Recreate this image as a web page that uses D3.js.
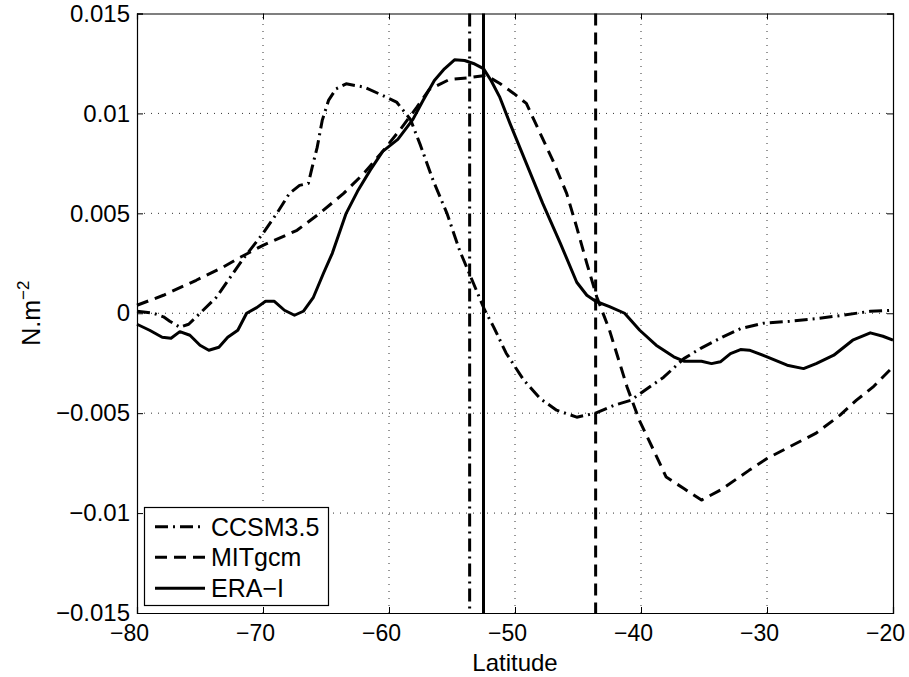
<!DOCTYPE html>
<html>
<head>
<meta charset="utf-8">
<script src="https://cdn.jsdelivr.net/npm/d3@7.9.0/dist/d3.min.js"></script>
<style>
  body { margin: 0; background: #fff; }
  svg { display: block; font-family: "Liberation Sans", Arial, Helvetica, sans-serif; }
</style>
</head>
<body>
<svg width="909" height="677"></svg>
<script>
// latitude / stress values
const ccsmLat = [-80, -79.3, -78.7, -77.9, -77.4, -76.6, -75.9, -75.0, -73.7, -72.6, -71.6, -70.0, -68.9, -67.9, -67.1, -66.4, -66.1, -65.7, -65.3, -64.8, -64.2, -63.4, -62.0, -60.5, -59.4, -58.3, -57.5, -56.5, -55.4, -54.4, -53.3, -52.4, -51.7, -50.7, -49.3, -48.0, -46.7, -45.1, -43.6, -42.1, -40.8, -39.8, -38.2, -36.6, -35.3, -33.5, -32.1, -30.3, -28.2, -26.1, -24.0, -21.8, -20.0];
const ccsmVal = [0.0001, 0.00005, 0, -0.00018, -0.0004, -0.0007, -0.00055, 0, 0.0008, 0.0018, 0.0027, 0.004, 0.005, 0.006, 0.0064, 0.0065, 0.0073, 0.0083, 0.00965, 0.01065, 0.01123, 0.01148, 0.01132, 0.0109, 0.01057, 0.0097, 0.0084, 0.00665, 0.005, 0.00315, 0.0015, 0.00015, -0.00068, -0.002, -0.00335, -0.00427, -0.00485, -0.0052, -0.005, -0.0046, -0.00435, -0.0039, -0.0032, -0.00227, -0.00177, -0.00118, -0.00077, -0.0005, -0.0004, -0.00027, -0.0001, 0.0001, 0.00015];

const mitLat = [-80, -77.9, -75.3, -73.2, -71.8, -70.0, -67.3, -65.5, -63.6, -62.0, -60.5, -59.1, -57.8, -56.8, -55.2, -53.8, -52.3, -51.2, -50.1, -49.1, -48.0, -47.0, -45.9, -45.1, -44.3, -43.5, -42.5, -41.1, -40.1, -39.0, -38.0, -36.6, -35.2, -33.7, -31.4, -30.0, -28.2, -26.1, -24.2, -22.9, -21.6, -20.0];
const mitVal = [0.0004, 0.0009, 0.00165, 0.0023, 0.0028, 0.0034, 0.00415, 0.005, 0.006, 0.007, 0.0081, 0.0092, 0.0103, 0.0112, 0.0117, 0.01178, 0.0119, 0.0115, 0.011, 0.0105, 0.009, 0.00765, 0.006, 0.0043, 0.0025, 0.0008, -0.00085, -0.0037, -0.0054, -0.00685, -0.0082, -0.00877, -0.00935, -0.00885, -0.00785, -0.00727, -0.00668, -0.006, -0.0051, -0.00435, -0.0037, -0.00268];

const eraLat = [-80, -79, -78, -77.3, -76.6, -75.8, -75.0, -74.3, -73.5, -72.8, -72.0, -71.3, -70.5, -69.8, -69.1, -68.3, -67.5, -66.8, -66.0, -65.2, -64.5, -63.4, -62.5, -61.5, -60.5, -59.3, -58.1, -57.3, -56.4, -55.6, -54.8, -54.0, -53.3, -52.5, -51.9, -51.2, -50.4, -49.1, -47.8, -46.4, -45.1, -44.3, -43.6, -42.5, -41.3, -40.1, -38.8, -37.4, -36.6, -35.2, -34.4, -33.7, -32.9, -32.1, -31.4, -30.0, -28.4, -27.1, -26.1, -24.7, -23.2, -21.8, -20.8, -20.0];
const eraVal = [-0.00055, -0.00085, -0.0012, -0.00125, -0.00092, -0.0011, -0.0016, -0.00185, -0.0017, -0.0012, -0.00085, 0, 0.00028, 0.0006, 0.0006, 0.00015, -0.0001, 0.0001, 0.0008, 0.002, 0.003, 0.005, 0.0061, 0.00715, 0.0081, 0.0087, 0.0097, 0.01065, 0.01165, 0.01223, 0.01268, 0.01265, 0.0125, 0.01224, 0.01165, 0.0108, 0.0095, 0.0075, 0.0055, 0.0035, 0.00155, 0.0009, 0.0006, 0.00033, 0, -0.00085, -0.0016, -0.00218, -0.0024, -0.0024, -0.00252, -0.00243, -0.00202, -0.00182, -0.00185, -0.00218, -0.0026, -0.00277, -0.00252, -0.0021, -0.00135, -0.00098, -0.00115, -0.00135];

// latitude of the jet position for each dataset (vertical lines)
const jetLat = [-53.6, -43.6, -52.5];
const seriesNames = ['CCSM3.5', 'MITgcm', 'ERA\u2212I'];
const xTicks = [-80, -70, -60, -50, -40, -30, -20];
const yTicks = [-0.015, -0.01, -0.005, 0, 0.005, 0.01, 0.015];

const dashes = ['13,5,2,5', '12,7', null];

const svg = d3.select('svg');
const margin = { left: 137, right: 16, top: 13.5, bottom: 64 };
const W = 909, H = 677;

let x = d3.scaleLinear().domain([-80, -20]).range([margin.left, W - margin.right]);
let y = d3.scaleLinear().domain([-0.015, 0.015]).range([H - margin.bottom, margin.top]);

let fmt = (v) => (v < 0 ? '\u2212' : '') + String(Math.abs(v));

// grid
let grid = svg.append('g');
grid.selectAll('.gx').data(xTicks.slice(1, -1)).join('line')
  .attr('x1', d => x(d)).attr('x2', d => x(d))
  .attr('y1', y(-0.015)).attr('y2', y(0.015))
  .attr('stroke', '#333').attr('stroke-width', 1).attr('stroke-dasharray', '1,6');
grid.selectAll('.gy').data(yTicks.slice(1, -1)).join('line')
  .attr('y1', d => y(d)).attr('y2', d => y(d))
  .attr('x1', x(-80)).attr('x2', x(-20))
  .attr('stroke', '#333').attr('stroke-width', 1).attr('stroke-dasharray', '1,6');

// axes with inward ticks
let xAxis = d3.axisBottom(x).tickValues(xTicks).tickSize(-6).tickPadding(12).tickFormat(fmt);
let xTop = d3.axisTop(x).tickValues(xTicks).tickSize(-6).tickFormat('');
let yAxis = d3.axisLeft(y).tickValues(yTicks).tickSize(-6).tickPadding(7).tickFormat(fmt);
let yRight = d3.axisRight(y).tickValues(yTicks).tickSize(-6).tickFormat('');

let gx = svg.append('g').attr('transform', `translate(0,${y(-0.015)})`).call(xAxis);
svg.append('g').attr('transform', `translate(0,${y(0.015)})`).call(xTop);
let gy = svg.append('g').attr('transform', `translate(${x(-80)},0)`).call(yAxis);
svg.append('g').attr('transform', `translate(${x(-20)},0)`).call(yRight);

svg.selectAll('.domain').attr('stroke', '#000').attr('stroke-width', 1.2);
svg.selectAll('.tick line').attr('stroke', '#000');
svg.selectAll('.tick text').attr('fill', '#000').attr('font-size', 24)
  .attr('font-family', '"Liberation Sans", Arial, sans-serif');
// matlab draws the x labels a little left of the tick
gx.selectAll('.tick text').attr('font-size', 23).attr('dx', -8);

// series
let allLat = [ccsmLat, mitLat, eraLat];
let allVal = [ccsmVal, mitVal, eraVal];
let line = d3.line().x(d => x(d[0])).y(d => y(d[1]));

allLat.forEach((lats, i) => {
  let pts = lats.map((la, k) => [la, allVal[i][k]]);
  svg.append('path')
    .attr('d', line(pts))
    .attr('fill', 'none')
    .attr('stroke', '#000')
    .attr('stroke-width', 3)
    .attr('stroke-linejoin', 'round')
    .attr('stroke-dasharray', dashes[i]);
});

jetLat.forEach((la, i) => {
  svg.append('line')
    .attr('x1', x(la)).attr('x2', x(la))
    .attr('y1', y(0.015)).attr('y2', y(-0.015))
    .attr('stroke', '#000')
    .attr('stroke-width', 3)
    .attr('stroke-dasharray', dashes[i]);
});

// axis labels
svg.append('text')
  .attr('x', (x(-80) + x(-20)) / 2).attr('y', 671)
  .attr('text-anchor', 'middle').attr('font-size', 24)
  .text('Latitude');

let yl = svg.append('text')
  .attr('transform', `translate(40,${(y(0.015) + y(-0.015)) / 2}) rotate(-90)`)
  .attr('text-anchor', 'middle').attr('font-size', 25);
yl.append('tspan').text('N.m');
yl.append('tspan').attr('font-size', 17).attr('dy', -11).text('\u22122');

// legend
let lg = svg.append('g');
lg.append('rect')
  .attr('x', 144.5).attr('y', 507.5).attr('width', 184).attr('height', 98)
  .attr('fill', '#fff').attr('stroke', '#000').attr('stroke-width', 1.2);
let rowY = [526.7, 557.3, 588.3];
seriesNames.forEach((name, i) => {
  lg.append('line')
    .attr('x1', 155).attr('x2', 205)
    .attr('y1', rowY[i]).attr('y2', rowY[i])
    .attr('stroke', '#000').attr('stroke-width', 3)
    .attr('stroke-dasharray', dashes[i]);
  lg.append('text')
    .attr('x', 211).attr('y', rowY[i] + 9)
    .attr('font-size', 25)
    .text(name);
});
</script>
</body>
</html>
